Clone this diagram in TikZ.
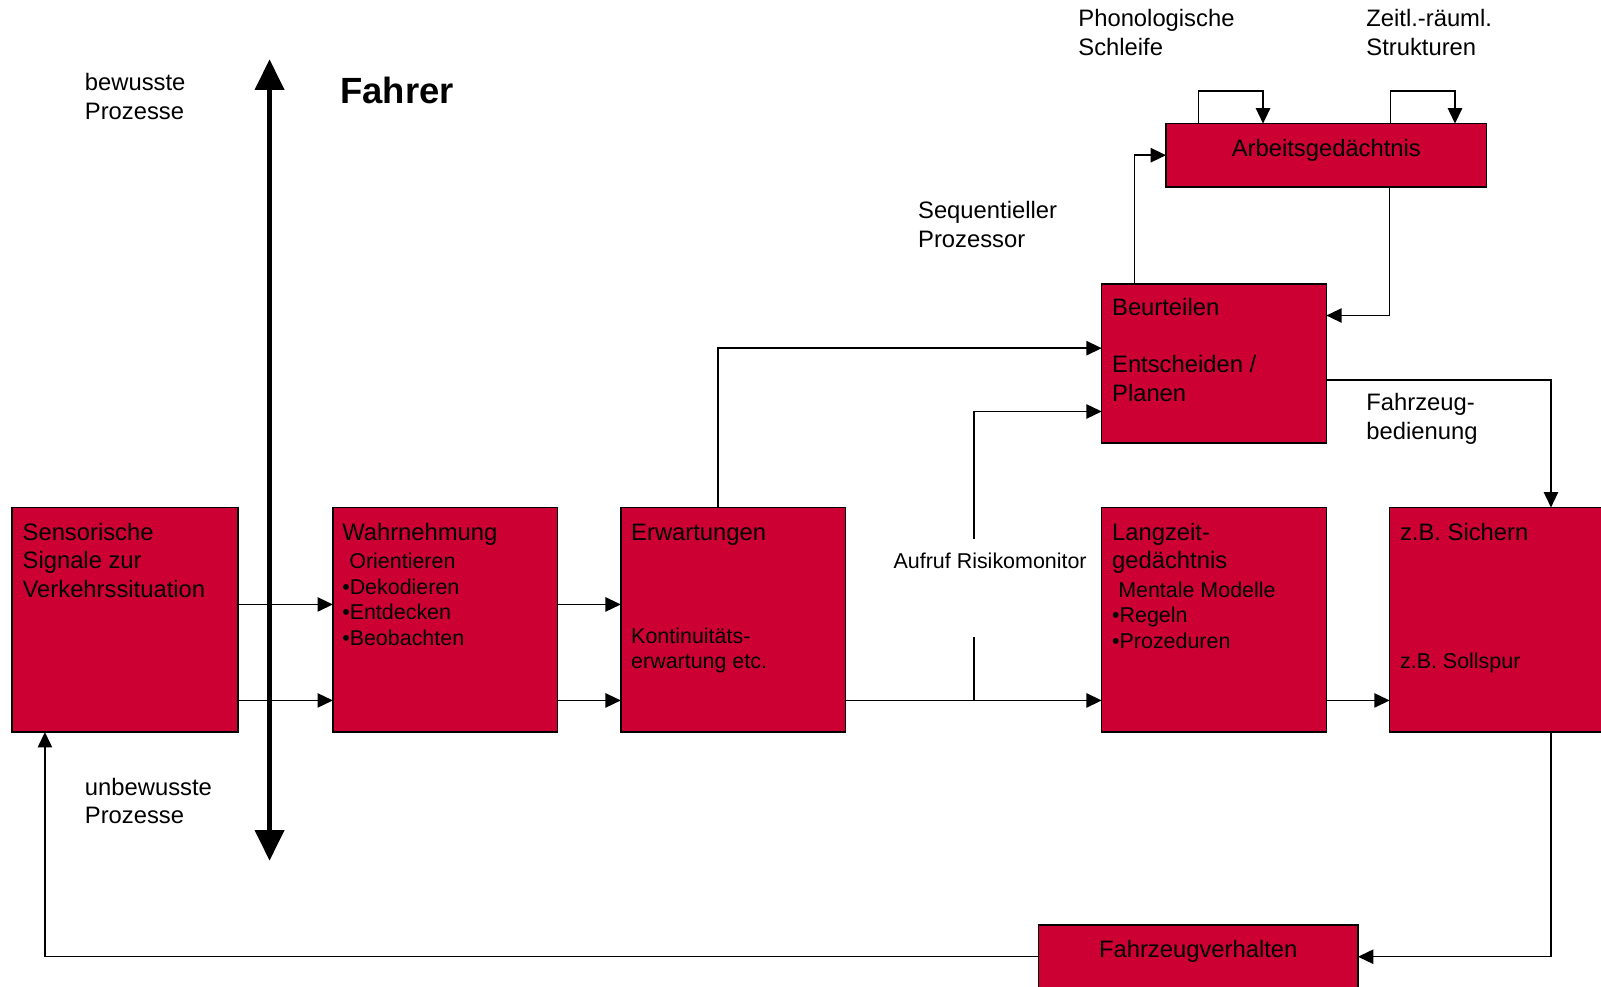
\documentclass[tikz,border=0pt]{standalone}
\usepackage{fontspec}
\setmainfont{Liberation Sans}
\usepackage{tikz}
\usetikzlibrary{positioning,arrows.meta}
\definecolor{boxred}{RGB}{204,0,51}

\begin{document}
\begin{tikzpicture}[x=1pt,y=-1pt,
        box/.style={draw,fill=boxred,line width=1.5pt,inner sep=0pt,outer sep=0pt},
        txt/.style={font=\fontsize{23.3}{28}\selectfont,align=left,inner sep=0pt,anchor=base west},
        smalltxt/.style={font=\fontsize{21}{25}\selectfont,align=left,inner sep=0pt,anchor=base west},
        arr/.style={line width=1.5pt,-{Triangle[length=15pt,width=14pt]}},
        plain/.style={line width=1.5pt}]
        \useasboundingbox (0,0) rectangle (1568,966);

        \node[box,minimum width=221pt,minimum height=220pt,anchor=north west](sens) at (12,497){};
        \node[box,minimum width=220pt,minimum height=220pt,right=93pt of sens](wahr){};
        \node[box,minimum width=220pt,minimum height=220pt,right=62pt of wahr](erw){};
        \node[box,minimum width=220pt,minimum height=220pt,right=251pt of erw](lang){};
        \node[box,minimum width=221pt,minimum height=220pt,right=62pt of lang](sich){};
        \node[box,minimum width=220pt,minimum height=156pt,above=63pt of lang](beur){};
        \node[box,minimum width=314pt,minimum height=62pt,anchor=north west](arb) at (1142,121){};
        \node[box,minimum width=313pt,minimum height=62pt,anchor=north west](fahrz) at (1017,906){};

        \node[txt] at ([shift={(10,88)}]sens.north west) {Sensorische\\Signale zur\\Verkehrssituation};
        \node[txt] at ([shift={(9,32)}]wahr.north west) {Wahrnehmung};
        \node[smalltxt] at ([shift={(9,135)}]wahr.north west) {\hspace*{7pt}Orientieren\\•Dekodieren\\•Entdecken\\•Beobachten};
        \node[txt] at ([shift={(10,32)}]erw.north west) {Erwartungen};
        \node[smalltxt] at ([shift={(10,158)}]erw.north west) {Kontinuitäts-\\erwartung etc.};
        \node[txt] at ([shift={(10,60)}]lang.north west) {Langzeit-\\gedächtnis};
        \node[smalltxt] at ([shift={(10,138)}]lang.north west) {\hspace*{6pt}Mentale Modelle\\•Regeln\\•Prozeduren};
        \node[txt] at ([shift={(10,32)}]sich.north west) {z.B. Sichern};
        \node[smalltxt] at ([shift={(10,158)}]sich.north west) {z.B. Sollspur};
        \node[txt] at ([shift={(10,115)}]beur.north west) {Beurteilen\\[28pt]Entscheiden /\\Planen};
        \node[txt,anchor=base] at ([shift={(0,32)}]arb.north) {Arbeitsgedächtnis};
        \node[txt,anchor=base] at ([shift={(0,32)}]fahrz.north) {Fahrzeugverhalten};

        \node[font=\bfseries\fontsize{35.7}{43}\selectfont,inner sep=0pt,anchor=base west](fahrer) at (333,101){Fahrer};
        \node[txt](bewusst) at (83,117){bewusste\\Prozesse};
        \node[txt](unbewusst) at (83,807){unbewusste\\Prozesse};
        \node[txt](phon) at (1056,54){Phonologische\\Schleife};
        \node[txt](zeitl) at (1338,54){Zeitl.-räuml.\\Strukturen};
        \node[txt](seq) at (899,242){Sequentieller\\Prozessor};
        \node[txt](bedien) at (1338,430){Fahrzeug-\\bedienung};
        \node[smalltxt](risiko) at (875,557){Aufruf Risikomonitor};

        \coordinate (achseoben) at (264,58);
        \coordinate (achseunten) at (264,843);
        \draw[line width=5pt,{Triangle[length=30pt,width=28pt]}-{Triangle[length=30pt,width=28pt]}] (achseunten) -- (achseoben);

        \draw[arr] ([shift={(0,-15)}]sens.east) -- ([shift={(0,-15)}]wahr.west);
        \draw[arr] ([shift={(0,79)}]sens.east) -- ([shift={(0,79)}]wahr.west);
        \draw[arr] ([shift={(0,-15)}]wahr.east) -- ([shift={(0,-15)}]erw.west);
        \draw[arr] ([shift={(0,79)}]wahr.east) -- ([shift={(0,79)}]erw.west);
        \draw[arr] ([shift={(0,79)}]erw.east) -- ([shift={(0,79)}]lang.west);
        \draw[arr] ([shift={(0,79)}]lang.east) -- ([shift={(0,79)}]sich.west);

        \coordinate (abzweig) at (954,686);
        \coordinate (aufruf) at (954,528);
        \draw[plain] (abzweig) -- ++(0,-62);
        \draw[arr] (aufruf) |- ([shift={(0,47)}]beur.west);
        \draw[arr] ([shift={(-15,0)}]erw.north) |- ([shift={(0,-15)}]beur.west);
        \draw[arr] ([shift={(-78,0)}]beur.north) |- (arb.west);
        \draw[arr] ([shift={(62,0)}]arb.south) |- ([shift={(0,-47)}]beur.east);
        \draw[arr] ([shift={(0,16)}]beur.east) -| ([shift={(47.5,0)}]sich.north);
        \draw[arr] ([shift={(47.5,0)}]sich.south) |- (fahrz.east);
        \draw[arr] (fahrz.west) -| ([shift={(-78.5,0)}]sens.south);
        \draw[arr] ([shift={(-125,0)}]arb.north) -- ++(0,-32) -| ([shift={(-62,0)}]arb.north);
        \draw[arr] ([shift={(63,0)}]arb.north) -- ++(0,-32) -| ([shift={(126,0)}]arb.north);
\end{tikzpicture}
\end{document}
